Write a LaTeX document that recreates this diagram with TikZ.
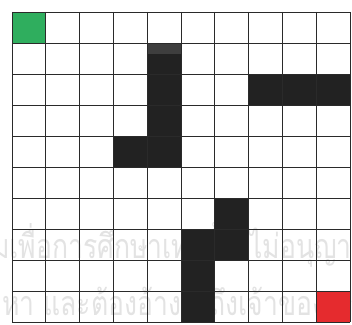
\documentclass[tikz,border=0pt]{standalone}
\usepackage{fontspec}
\newfontfamily\thaifont[Script=Thai,FakeStretch=0.78]{Loma}
\definecolor{cellgreen}{HTML}{2FAE5E}
\definecolor{cellred}{HTML}{E52B2E}
\definecolor{cellblack}{HTML}{222222}
\definecolor{cellhi}{HTML}{3E3E3E}
\definecolor{gridc}{HTML}{2A2A2A}
\definecolor{wmark}{HTML}{E3E3E3}
\tikzset{
  wm/.style={text=wmark, inner sep=0pt, font=\thaifont\fontsize{34}{34}\selectfont},
  gridline/.style={draw=gridc, line width=0.85pt},
}
\begin{document}
\begin{tikzpicture}[x=1pt,y=1pt]
\useasboundingbox (0,0) rectangle (352,324);
\fill[white] (0,0) rectangle (352,324);
\begin{scope}
\clip (0,0) rectangle (352,324);
% watermark
\node[wm, anchor=base west] (w1) at (-8,66) {มเพื่อการศึกษาเท่านั้น ไม่อนุญาต};
\node[wm, anchor=base west] (w2) at (2,9) {หา และต้องอ้างอิงถึงเจ้าของเอกสาร};
\end{scope}
% column i -> x=12+33.8*i, row j -> y=312-31*j
\def\cx#1{12+33.8*#1}
\def\cy#1{312-31*#1}
% green start, red goal
\fill[cellgreen] ({\cx{0}},{\cy{0}}) rectangle ({\cx{1}},{\cy{1}});
\fill[cellred] ({\cx{9}},{\cy{9}}) rectangle ({\cx{10}},{\cy{10}});
% walls
\fill[cellblack] ({\cx{4}},{\cy{1}}) rectangle ({\cx{5}},{\cy{5}});
\fill[cellhi] ({\cx{4}},{\cy{1}}) rectangle ({\cx{5}},{\cy{1}-11});
\fill[cellblack] ({\cx{3}},{\cy{4}}) rectangle ({\cx{5}},{\cy{5}});
\fill[cellblack] ({\cx{7}},{\cy{2}}) rectangle ({\cx{10}},{\cy{3}});
\fill[cellblack] ({\cx{6}},{\cy{6}}) rectangle ({\cx{7}},{\cy{8}});
\fill[cellblack] ({\cx{5}},{\cy{7}}) rectangle ({\cx{6}},{\cy{10}});
% grid
\foreach \i in {0,...,10} {
  \draw[gridline] ({\cx{\i}},{\cy{0}}) -- ({\cx{\i}},{\cy{10}});
  \draw[gridline] ({\cx{0}},{\cy{\i}}) -- ({\cx{10}},{\cy{\i}});
}
\end{tikzpicture}
\end{document}
